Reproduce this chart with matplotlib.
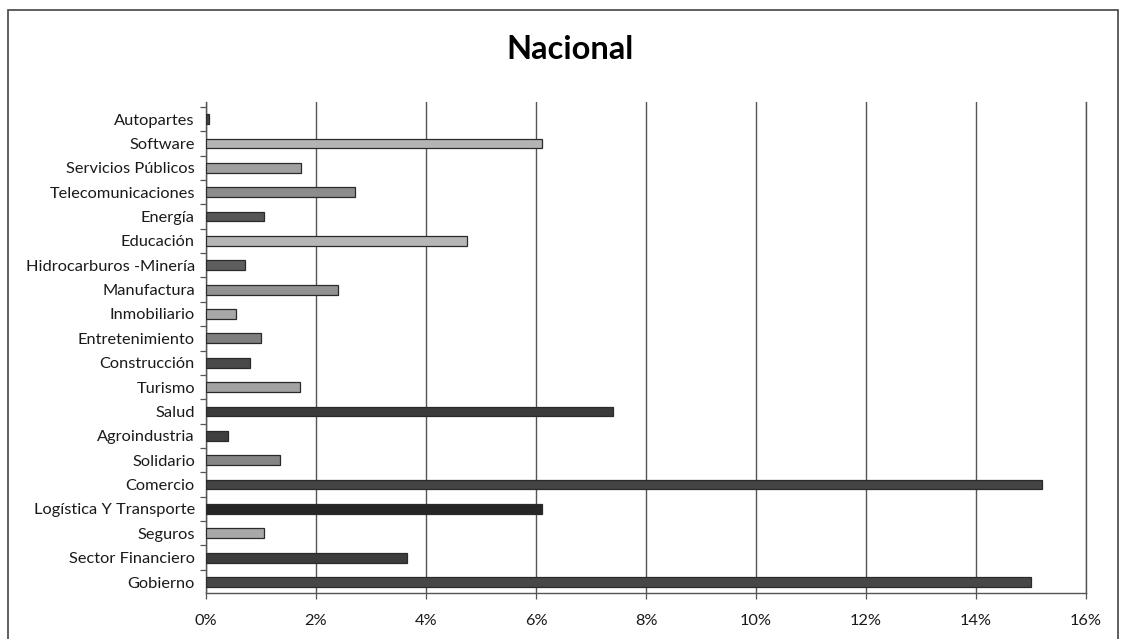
import numpy as np
import matplotlib
matplotlib.use("Agg")
import matplotlib.pyplot as plt
from matplotlib.patches import Rectangle
from matplotlib.ticker import FixedLocator, FuncFormatter

plt.rcParams['font.family'] = ['Lato', 'DejaVu Sans']

# categories listed bottom -> top, as drawn
sectors = ["Gobierno", "Sector Financiero", "Seguros", "Logística Y Transporte",
           "Comercio", "Solidario", "Agroindustria", "Salud", "Turismo",
           "Construcción", "Entretenimiento", "Inmobiliario", "Manufactura",
           "Hidrocarburos -Minería", "Educación", "Energía", "Telecomunicaciones",
           "Servicios Públicos", "Software", "Autopartes"]
shares = [15.0, 3.65, 1.05, 6.1, 15.2, 1.35, 0.4, 7.4, 1.7, 0.8, 1.0, 0.55,
          2.4, 0.7, 4.75, 1.05, 2.7, 1.72, 6.1, 0.05]
shades = ["#474747", "#3c3c3c", "#a8a8a8", "#262626", "#444444", "#858585",
          "#3f3f3f", "#3b3b3b", "#a2a2a2", "#4a4a4a", "#7e7e7e", "#a8a8a8",
          "#929292", "#5e5e5e", "#b6b6b6", "#555555", "#8c8c8c", "#a0a0a0",
          "#b4b4b4", "#444444"]
xticks = [0, 2, 4, 6, 8, 10, 12, 14, 16]

fig = plt.figure(figsize=(11.24, 6.39), dpi=100)
fig.patches.append(Rectangle((8 / 1124, -0.05), 1110 / 1124, 1.05 - 10 / 639,
                             transform=fig.transFigure, fill=False,
                             edgecolor="#444444", linewidth=1.2))
fig.text(0.507, 0.923, "Nacional", ha="center", va="center",
         fontsize=23.5, fontweight="bold")

ax = fig.add_axes([206 / 1124, 1 - 593 / 639, 880 / 1124, 491 / 639])
y = np.arange(len(sectors))
ax.barh(y, shares, height=0.4, color=shades, edgecolor="#2a2a2a",
        linewidth=0.9, zorder=3)

ax.set_xlim(0, 16)
ax.set_ylim(-0.45, 19.7)
ax.set_xticks(xticks)
ax.xaxis.set_major_formatter(FuncFormatter(lambda v, p: f"{v:.0f}%"))
ax.set_yticks(y)
ax.set_yticklabels(sectors)
ax.yaxis.set_minor_locator(FixedLocator(np.arange(-0.5, 20, 1.0)))
ax.tick_params(axis="y", which="major", length=0, pad=8, labelsize=11.8,
               colors="#1a1a1a")
ax.tick_params(axis="y", which="minor", length=4, width=0.9, color="#555555")
ax.tick_params(axis="x", length=4, width=0.9, color="#555555", pad=11,
               labelsize=11.8, labelcolor="#1a1a1a")

ax.grid(axis="x", color="#555555", linewidth=1.0, zorder=1)
ax.spines["top"].set_visible(False)
for side in ["left", "bottom", "right"]:
    ax.spines[side].set_color("#555555")
    ax.spines[side].set_linewidth(1.0)

fig.savefig("out.png", dpi=100)
